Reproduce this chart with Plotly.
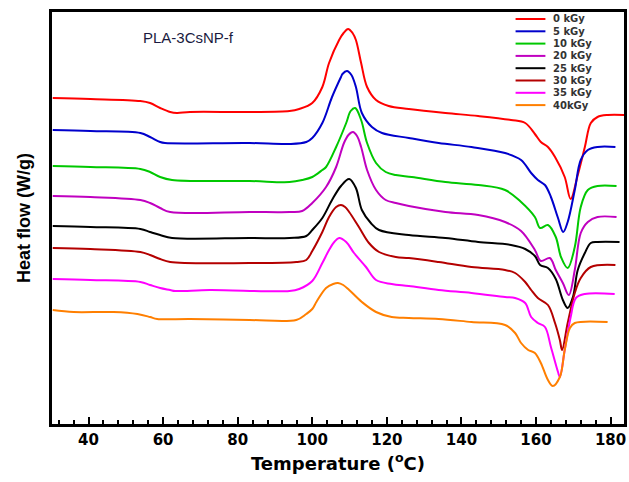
import plotly.graph_objects as go

# Dose labels (legend) and colours
doses = ["0 kGy", "5 kGy", "10 kGy", "20 kGy", "25 kGy", "30 kGy", "35 kGy", "40kGy"]
colors = ["#ff0000", "#0000cc", "#00c800", "#c000c0", "#000000", "#b40000", "#ff00ff", "#ff7f00"]

# Temperature (°C) and heat flow (arbitrary offset units, W/g)
t_0 = [30.4, 40.5, 53.9, 56.5, 59.2, 61.9, 63.7, 67.2, 83.2, 93.9, 96.5, 100.0, 102.7, 104.5, 107.2,
       108.4, 109.6, 110.8, 111.7, 113.1, 114.7, 117.1, 120.5, 125.9, 135.7, 144.5, 153.3, 157.1,
       159.7, 161.3, 163.2, 165.1, 167.7, 169.3, 171.2, 173.1, 174.7, 176.5, 179.2, 183.7]
hf_0 = [326, 325, 323, 321, 316, 312, 311, 312, 312, 313, 315, 321, 337, 361, 384,
        391, 395, 391, 384, 361, 337, 324, 318, 315, 311, 308, 304, 301,
        290, 282, 277, 267, 247, 225, 249, 277, 301, 307, 309, 309]

t_5 = [30.4, 40.5, 53.9, 56.5, 59.2, 60.5, 83.2, 93.9, 98.4, 100.0, 102.7, 105.3, 107.7, 108.1,
       109.3, 110.5, 111.7, 113.3, 116.0, 118.7, 125.9, 133.9, 142.7, 151.7, 156.0, 158.7, 160.5,
       162.4, 164.0, 165.9, 167.3, 168.5, 170.4, 172.0, 173.9, 176.5, 181.3]
hf_5 = [294, 293, 291, 287, 282, 281, 281, 280, 282, 286, 301, 327, 347, 350,
        353, 349, 337, 311, 297, 291, 286, 281, 277, 271, 264, 251, 244,
        239, 227, 206, 192, 202, 234, 264, 274, 277, 277]

t_10 = [30.4, 40.5, 53.9, 56.5, 59.2, 62.4, 83.2, 93.9, 97.3, 100.0, 102.7, 103.7, 106.4, 109.1,
        110.3, 111.5, 113.1, 114.7, 117.1, 119.7, 122.4, 126.7, 135.7, 144.5, 151.7, 156.0,
        159.7, 161.1, 163.2, 165.3, 166.7, 168.5, 170.4, 172.0, 173.9, 176.5, 181.6]
hf_10 = [258, 257, 255, 252, 247, 244, 243, 242, 244, 247, 254, 257, 277, 301,
         313, 316, 304, 281, 261, 252, 249, 247, 242, 239, 234, 222,
         207, 196, 199, 187, 167, 156, 177, 217, 234, 238, 238]

t_20 = [30.4, 40.5, 53.9, 56.5, 59.2, 61.9, 83.2, 93.9, 97.3, 100.0, 103.7, 106.4, 108.5, 109.7,
        110.9, 112.0, 113.1, 114.7, 117.1, 119.7, 122.4, 125.9, 135.7, 144.5, 151.7, 156.0, 159.7,
        161.3, 163.7, 165.3, 167.2, 168.8, 170.4, 172.0, 173.9, 176.5, 181.6]
hf_20 = [228, 227, 224, 221, 216, 212, 212, 212, 213, 221, 237, 257, 281, 289,
         292, 288, 277, 254, 234, 224, 221, 218, 212, 209, 202, 193, 174,
         163, 166, 154, 141, 129, 154, 191, 202, 207, 207]

t_25 = [30.4, 40.5, 53.9, 56.5, 59.2, 62.4, 83.2, 93.9, 98.4, 100.0, 102.7, 105.3, 107.7,
        109.9, 111.7, 113.3, 115.7, 117.9, 125.9, 135.7, 144.5, 153.3, 157.1, 159.7, 161.1,
        163.2, 165.3, 167.2, 168.5, 169.9, 171.2, 173.1, 174.7, 176.5, 182.4]
hf_25 = [198, 197, 195, 192, 189, 186, 186, 186, 188, 194, 206, 224, 238,
         245, 236, 214, 201, 194, 189, 186, 182, 179, 175, 168, 159,
         156, 145, 124, 116, 127, 154, 171, 181, 182, 182]

t_30 = [30.4, 40.5, 53.9, 56.5, 59.2, 61.9, 83.2, 95.7, 98.4, 100.0, 102.7, 104.5, 106.4, 107.7,
        108.8, 109.9, 112.5, 115.2, 117.9, 122.4, 125.9, 133.9, 142.7, 151.7, 154.4, 157.1, 158.7,
        160.5, 163.2, 165.1, 166.4, 167.0, 168.5, 170.4, 172.0, 174.7, 181.3]
hf_30 = [176, 175, 172, 169, 165, 162, 161, 162, 164, 173, 192, 207, 217, 219,
         217, 212, 197, 181, 172, 167, 166, 162, 157, 154, 151, 142, 134,
         126, 119, 101, 84, 74, 101, 131, 146, 157, 159]

t_35 = [30.4, 40.5, 53.9, 56.5, 59.2, 61.9, 63.2, 72.5, 93.9, 96.5, 100.0, 102.7, 104.5, 105.9,
        107.2, 109.1, 111.2, 114.4, 117.1, 121.3, 125.9, 133.9, 142.7, 151.7, 154.4,
        157.1, 158.7, 160.5, 162.4, 164.0, 165.9, 166.4, 167.7, 169.3, 170.7, 173.1, 181.1]
hf_35 = [145, 144, 142, 139, 136, 134, 133, 134, 133, 135, 143, 161, 174, 182,
         186, 182, 171, 157, 144, 140, 138, 134, 131, 127, 126,
         121, 107, 101, 97, 77, 52, 47, 74, 107, 126, 130, 130]

t_40 = [30.4, 36.0, 46.7, 53.1, 56.5, 58.4, 67.2, 83.2, 95.7, 98.4, 100.0, 101.1, 103.7, 105.6,
        106.9, 108.3, 109.9, 113.3, 117.1, 121.3, 125.9, 133.9, 142.7, 151.7, 154.4, 156.0, 157.9,
        159.7, 161.3, 163.2, 164.5, 166.4, 167.7, 169.1, 170.4, 179.2]
hf_40 = [114, 112, 112, 110, 107, 105, 105, 104, 104, 110, 115, 122, 136, 140,
         141, 139, 134, 122, 112, 107, 106, 105, 102, 99, 91, 81, 74,
         71, 61, 44, 38, 47, 74, 96, 101, 102]

temps = [t_0, t_5, t_10, t_20, t_25, t_30, t_35, t_40]
flows = [hf_0, hf_5, hf_10, hf_20, hf_25, hf_30, hf_35, hf_40]

x_ticks = [40, 60, 80, 100, 120, 140, 160, 180]

fig = go.Figure()
for name, col, t, h in zip(doses, colors, temps, flows):
    fig.add_trace(go.Scatter(x=t, y=h, mode="lines", name=name, showlegend=False,
                             line=dict(color=col, width=2, shape="spline", smoothing=1.0)))

# Manual compact legend (top right, inside the frame)
for i, (name, col) in enumerate(zip(doses, colors)):
    yp = 1 - (7 + i * 12.3) / 412
    fig.add_shape(type="line", xref="paper", yref="paper",
                  x0=(518 - 52) / 575, x1=(548 - 52) / 575, y0=yp, y1=yp,
                  line=dict(color=col, width=2))
    fig.add_annotation(xref="paper", yref="paper", x=(554 - 52) / 575, y=yp,
                       text=name, showarrow=False, xanchor="left", yanchor="middle",
                       font=dict(family="DejaVu Sans", size=10, color="#333333", weight="bold"))

fig.add_annotation(xref="paper", yref="paper", x=(141 - 52) / 575, y=1 - (38 - 12) / 412,
                   text="PLA-3CsNP-f", showarrow=False, xanchor="left", yanchor="middle",
                   font=dict(family="Liberation Sans", size=15, color="#1a1a40"))

fig.update_layout(
    width=629, height=482,
    margin=dict(l=52, r=2, t=12, b=58),
    paper_bgcolor="white", plot_bgcolor="white",
    xaxis=dict(range=[30.2, 183.6], tickvals=x_ticks, ticktext=[str(v) for v in x_ticks],
               ticks="inside", ticklen=7, tickwidth=2, tickcolor="black",
               minor=dict(dtick=4, tick0=0, ticks="inside", ticklen=4, tickwidth=2, tickcolor="black"),
               showline=True, linewidth=2.5, linecolor="black", mirror=True,
               showgrid=False, zeroline=False,
               tickfont=dict(family="DejaVu Sans", size=15, color="black", weight="bold"),
               title=dict(text="Temperature (<sup>o</sup>C)", standoff=10,
                          font=dict(family="DejaVu Sans", size=18, color="black", weight="bold"))),
    yaxis=dict(range=[0, 412], showticklabels=False, ticks="",
               showline=True, linewidth=2.5, linecolor="black", mirror=True,
               showgrid=False, zeroline=False,
               title=dict(text="Heat flow (W/g)", standoff=14,
                          font=dict(family="Liberation Sans", size=18, color="black", weight="bold"))),
)

fig.write_html("out.html")
